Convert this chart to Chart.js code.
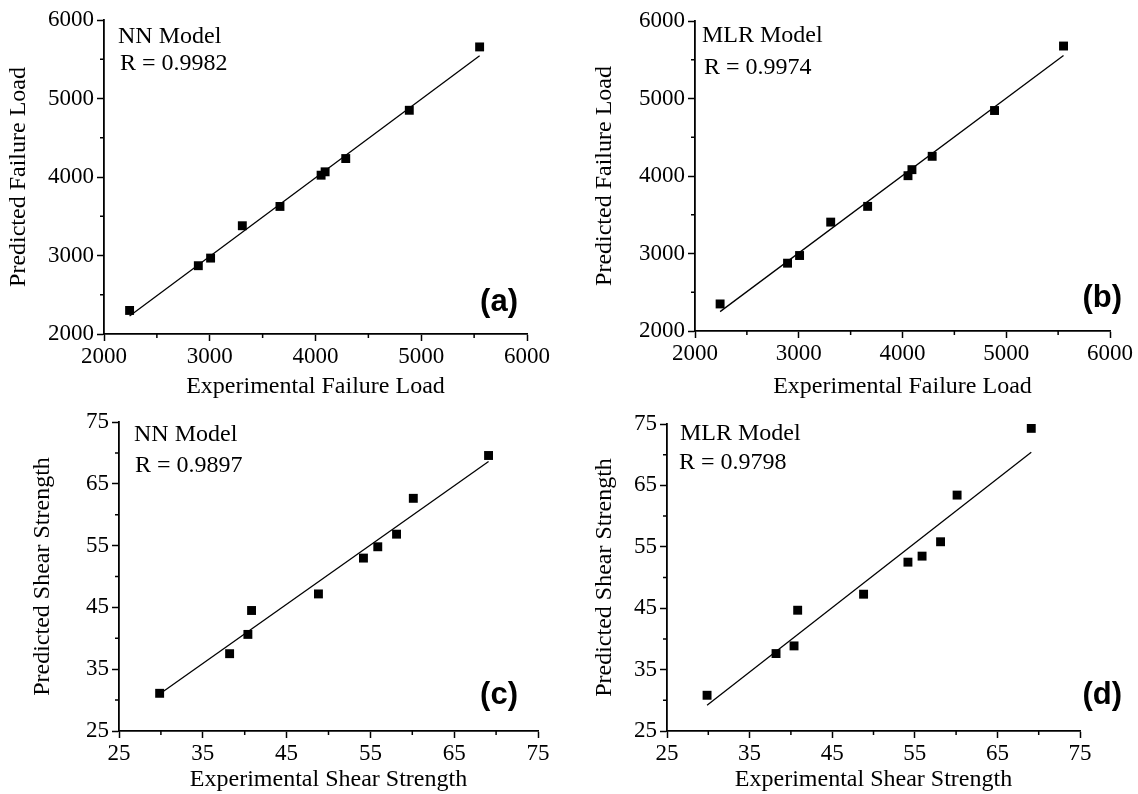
<!DOCTYPE html>
<html>
<head>
<meta charset="utf-8">
<script src="https://cdn.jsdelivr.net/npm/chart.js@4.4.1/dist/chart.umd.min.js"></script>
<style>
  html, body { margin: 0; padding: 0; background: #fff; }
  #wrap { position: relative; width: 1138px; height: 794px; overflow: hidden; }
  canvas { position: absolute; }
</style>
</head>
<body>
<div id="wrap">
  <canvas id="chartA" width="569" height="400" style="left:0px;top:0px"></canvas>
  <canvas id="chartB" width="569" height="400" style="left:569px;top:0px"></canvas>
  <canvas id="chartC" width="569" height="394" style="left:0px;top:400px"></canvas>
  <canvas id="chartD" width="569" height="394" style="left:569px;top:400px"></canvas>
</div>
<script>
// ---- data ----
const loadTicks = [2000, 3000, 4000, 5000, 6000];
const shearTicks = [25, 35, 45, 55, 65, 75];

const expLoad = [2242, 2892, 3008, 3308, 3664, 4053, 4091, 4286, 4887, 5552];
const nnLoad  = [2300, 2870, 2967, 3379, 3625, 4023, 4066, 4235, 4850, 5657];
const mlrLoad = [2349, 2875, 2974, 3405, 3608, 4004, 4082, 4254, 4845, 5677];

const expShear = [29.85, 38.2, 40.38, 40.82, 48.8, 54.17, 55.88, 58.12, 60.12, 69.1];
const nnShear  = [31.1, 37.51, 40.63, 44.5, 47.18, 52.98, 54.81, 56.85, 62.65, 69.58];
const mlrShear = [30.82, 37.61, 38.86, 44.67, 47.28, 52.5, 53.48, 55.82, 63.42, 74.29];

// fitted lines (end points)
const fitLoadX = [2242, 5552];
const fitNnLoadY = [2228, 5545];
const fitMlrLoadY = [2250, 5556];
const fitShearX = [29.85, 69.1];
const fitNnShearY = [31.0, 68.6];
const fitMlrShearY = [29.2, 70.4];

const serif = "'Liberation Serif', 'Times New Roman', serif";

function pairs(xs, ys) {
    return xs.map((x, i) => ({ x: x, y: ys[i] }));
}

function isMajor(v, ticks) {
    const step = ticks[1] - ticks[0];
    const k = (v - ticks[0]) / step;
    return Math.abs(k - Math.round(k)) < 1e-6;
}

// minor ticks + text labels inside each panel
const panelDecor = {
    id: 'panelDecor',
    afterDraw(chart, args, opts) {
        const ctx = chart.ctx;
        const area = chart.chartArea;
        const xs = chart.scales.x, ys = chart.scales.y;
        ctx.save();
        ctx.strokeStyle = '#000';
        ctx.lineWidth = 1.5;
        ctx.beginPath();
        xs.ticks.forEach(t => {
            if (!isMajor(t.value, opts.ticks)) {
                const px = xs.getPixelForValue(t.value);
                ctx.moveTo(px, area.bottom);
                ctx.lineTo(px, area.bottom + 4);
            }
        });
        ys.ticks.forEach(t => {
            if (!isMajor(t.value, opts.ticks)) {
                const py = ys.getPixelForValue(t.value);
                ctx.moveTo(area.left, py);
                ctx.lineTo(area.left - 4, py);
            }
        });
        ctx.stroke();

        ctx.fillStyle = '#000';
        ctx.textBaseline = 'middle';
        ctx.textAlign = 'left';
        ctx.font = '24px ' + serif;
        ctx.fillText(opts.model, area.left + opts.modelPos[0], area.top + opts.modelPos[1]);
        ctx.fillText(opts.r, area.left + opts.rPos[0], area.top + opts.rPos[1]);
        ctx.textAlign = 'right';
        ctx.font = 'bold 31px "Liberation Sans", Arial, sans-serif';
        ctx.fillText(opts.tag, area.right + opts.tagPos[0], area.bottom + opts.tagPos[1]);
        ctx.restore();
    }
};

function makePanel(id, cfg) {
    const ticks = cfg.ticks;
    const minorStep = (ticks[1] - ticks[0]) / 2;
    const axisBase = {
        type: 'linear',
        min: ticks[0],
        max: ticks[ticks.length - 1],
        border: { display: true, color: '#000', width: 1.8 },
        grid: {
            display: true,
            drawOnChartArea: false,
            drawTicks: true,
            tickLength: 7,
            tickWidth: 1.5,
            tickColor: c => isMajor(c.tick.value, ticks) ? '#000' : 'rgba(0,0,0,0)'
        },
        ticks: {
            stepSize: minorStep,
            autoSkip: false,
            maxRotation: 0,
            color: '#000',
            font: { family: serif, size: 23 },
            callback: v => isMajor(v, ticks) ? String(v) : ''
        }
    };
    return new Chart(document.getElementById(id), {
        type: 'scatter',
        data: {
            datasets: [
                {
                    type: 'line',
                    data: cfg.fit,
                    borderColor: '#000',
                    borderWidth: 1.3,
                    pointRadius: 0,
                    fill: false,
                    tension: 0
                },
                {
                    data: cfg.points,
                    pointStyle: 'rect',
                    pointRadius: 6.3,
                    backgroundColor: '#000',
                    borderWidth: 0
                }
            ]
        },
        options: {
            responsive: false,
            animation: false,
            devicePixelRatio: 1,
            layout: { padding: { left: 0, top: cfg.top, right: cfg.right, bottom: 0 } },
            plugins: {
                legend: { display: false },
                tooltip: { enabled: false },
                panelDecor: {
                    ticks: ticks,
                    model: cfg.model,
                    r: cfg.r,
                    tag: cfg.tag,
                    modelPos: cfg.modelPos,
                    rPos: cfg.rPos,
                    tagPos: cfg.tagPos
                }
            },
            scales: {
                x: {
                    ...axisBase,
                    position: 'bottom',
                    ticks: { ...axisBase.ticks, padding: 2 },
                    title: {
                        display: true,
                        text: cfg.xTitle,
                        color: '#000',
                        font: { family: serif, size: 24, lineHeight: 1 },
                        padding: { top: 0, bottom: cfg.xTitlePad }
                    },
                    afterFit: s => { s.height = cfg.xHeight; }
                },
                y: {
                    ...axisBase,
                    position: 'left',
                    ticks: { ...axisBase.ticks, padding: 3 },
                    title: {
                        display: true,
                        text: cfg.yTitle,
                        color: '#000',
                        font: { family: serif, size: 24, lineHeight: 1 },
                        padding: { top: cfg.yTitlePad, bottom: 0 }
                    },
                    afterFit: s => { s.width = cfg.yWidth; }
                }
            }
        },
        plugins: [panelDecor]
    });
}

makePanel('chartA', {
    ticks: loadTicks,
    points: pairs(expLoad, nnLoad),
    fit: pairs(fitLoadX, fitNnLoadY),
    xTitle: 'Experimental Failure Load',
    yTitle: 'Predicted Failure Load',
    model: 'NN Model', r: 'R = 0.9982', tag: '(a)',
    modelPos: [14, 17], rPos: [16, 44], tagPos: [-9, -32],
    top: 20, right: 42, xHeight: 66, yWidth: 104,
    xTitlePad: 1, yTitlePad: 7
});

makePanel('chartB', {
    ticks: loadTicks,
    points: pairs(expLoad, mlrLoad),
    fit: pairs(fitLoadX, fitMlrLoadY),
    xTitle: 'Experimental Failure Load',
    yTitle: 'Predicted Failure Load',
    model: 'MLR Model', r: 'R = 0.9974', tag: '(b)',
    modelPos: [7, 15], rPos: [9, 47], tagPos: [12, -33],
    top: 21, right: 28, xHeight: 69, yWidth: 126,
    xTitlePad: 1, yTitlePad: 24
});

makePanel('chartC', {
    ticks: shearTicks,
    points: pairs(expShear, nnShear),
    fit: pairs(fitShearX, fitNnShearY),
    xTitle: 'Experimental Shear Strength',
    yTitle: 'Predicted Shear Strength',
    model: 'NN Model', r: 'R = 0.9897', tag: '(c)',
    modelPos: [15, 13], rPos: [16, 44], tagPos: [-20, -36],
    top: 22, right: 31, xHeight: 63, yWidth: 119,
    xTitlePad: 2, yTitlePad: 31
});

makePanel('chartD', {
    ticks: shearTicks,
    points: pairs(expShear, mlrShear),
    fit: pairs(fitShearX, fitMlrShearY),
    xTitle: 'Experimental Shear Strength',
    yTitle: 'Predicted Shear Strength',
    model: 'MLR Model', r: 'R = 0.9798', tag: '(d)',
    modelPos: [13, 10], rPos: [12, 39], tagPos: [42, -36],
    top: 24, right: 58, xHeight: 63, yWidth: 98,
    xTitlePad: 2, yTitlePad: 24
});
</script>
</body>
</html>
